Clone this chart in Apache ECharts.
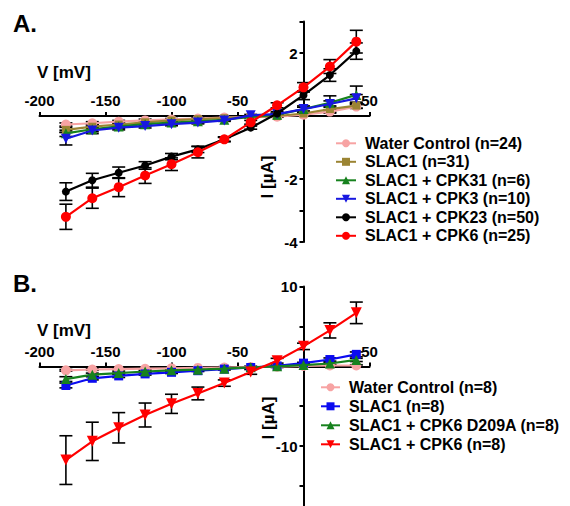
<!DOCTYPE html>
<html>
<head>
<meta charset="utf-8">
<script src="https://cdn.jsdelivr.net/npm/echarts@6/dist/echarts.min.js"></script>
<style>html,body{margin:0;padding:0;background:#fff}#c{width:570px;height:506px}</style>
</head>
<body>
<div id="c"></div>
<script>
// ---------- DATA ----------
const voltages = [-180, -160, -140, -120, -100, -80, -60, -40, -20, 0, 20, 40];

// Panel A
const namesA = ['Water Control (n=24)', 'SLAC1 (n=31)', 'SLAC1 + CPK31 (n=6)', 'SLAC1 + CPK3 (n=10)', 'SLAC1 + CPK23 (n=50)', 'SLAC1 + CPK6 (n=25)'];
const waterA  = [-0.27, -0.23, -0.18, -0.14, -0.11, -0.08, -0.05, -0.03, -0.02, 0.04, 0.14, 0.30];
const slac1A  = [-0.44, -0.34, -0.27, -0.20, -0.14, -0.10, -0.07, -0.03, 0.00, 0.08, 0.22, 0.33];
const cpk31A  = [-0.55, -0.42, -0.33, -0.26, -0.21, -0.17, -0.12, -0.03, 0.04, 0.22, 0.42, 0.67];
const cpk3A   = [-0.72, -0.46, -0.37, -0.32, -0.26, -0.21, -0.14, 0.02, 0.06, 0.22, 0.38, 0.56];
const cpk23A  = [-2.40, -2.04, -1.80, -1.57, -1.29, -1.06, -0.74, -0.37, 0.08, 0.66, 1.30, 2.06];
const cpk6A   = [-3.20, -2.61, -2.26, -1.89, -1.53, -1.15, -0.74, -0.20, 0.34, 0.91, 1.57, 2.36];
const waterAErr = [0.05, 0.05, 0.04, 0.04, 0.03, 0.03, 0.03, 0.02, 0.02, 0.03, 0.05, 0.06];
const slac1AErr = [0.08, 0.06, 0.05, 0.04, 0.04, 0.03, 0.03, 0.02, 0.02, 0.04, 0.10, 0.08];
const cpk31AErr = [0.10, 0.08, 0.06, 0.05, 0.04, 0.04, 0.03, 0.03, 0.04, 0.10, 0.22, 0.28];
const cpk3AErr  = [0.20, 0.10, 0.07, 0.06, 0.05, 0.04, 0.03, 0.03, 0.03, 0.06, 0.10, 0.12];
const cpk23AErr = [0.28, 0.22, 0.18, 0.12, 0.10, 0.10, 0.06, 0.05, 0.06, 0.14, 0.20, 0.26];
const cpk6AErr  = [0.40, 0.32, 0.30, 0.25, 0.20, 0.18, 0.08, 0.06, 0.08, 0.15, 0.22, 0.36];

// Panel B
const namesB = ['Water Control (n=8)', 'SLAC1 (n=8)', 'SLAC1 + CPK6 D209A (n=8)', 'SLAC1 + CPK6 (n=8)'];
const waterB = [-0.5, -0.4, -0.35, -0.3, -0.25, -0.2, -0.15, -0.1, -0.05, 0.05, 0.1, 0.1];
const slac1B = [-2.4, -1.5, -1.2, -0.95, -0.75, -0.55, -0.35, -0.15, 0.05, 0.4, 0.85, 1.5];
const d209aB = [-1.6, -1.05, -0.85, -0.65, -0.5, -0.42, -0.3, -0.13, 0.0, 0.15, 0.35, 0.8];
const cpk6B  = [-11.75, -9.4, -7.7, -6.1, -4.7, -3.4, -2.1, -0.7, 0.7, 2.5, 4.5, 6.7];
const waterBErr = [0.1, 0.1, 0.1, 0.1, 0.1, 0.1, 0.1, 0.1, 0.1, 0.1, 0.1, 0.1];
const slac1BErr = [0.3, 0.2, 0.2, 0.15, 0.15, 0.1, 0.1, 0.1, 0.1, 0.1, 0.2, 0.3];
const d209aBErr = [0.3, 0.2, 0.15, 0.15, 0.1, 0.1, 0.1, 0.1, 0.1, 0.1, 0.15, 0.2];
const cpk6BErr  = [3.05, 2.4, 1.9, 1.5, 1.2, 0.8, 0.4, 0.3, 0.3, 0.4, 0.95, 1.35];

// Tick values
const xTicks = [-200, -150, -100, -50, 0, 50];
const yTicksA = [-4, -3, -2, -1, 0, 1, 2, 3];
const yLabelsA = [-4, -2, 2];
const yTicksB = [-15, -10, -5, 0, 5, 10];
const yLabelsB = [-10, 10];

// ---------- STYLE ----------
const FONT = 'Liberation Sans, Arial, sans-serif';
const stylesA = [
  {color: '#F7A3A3', symbol: 'circle', size: 10, rotate: 0},
  {color: '#9B8433', symbol: 'rect', size: 8, rotate: 0},
  {color: '#17821E', symbol: 'triangle', size: 10, rotate: 0},
  {color: '#1717E0', symbol: 'triangle', size: 10, rotate: 180},
  {color: '#000000', symbol: 'circle', size: 8, rotate: 0},
  {color: '#FF0000', symbol: 'circle', size: 10, rotate: 0}
];
const stylesB = [
  {color: '#F7A3A3', symbol: 'circle', size: 10, rotate: 0},
  {color: '#0B0BF0', symbol: 'rect', size: 9, rotate: 0},
  {color: '#17821E', symbol: 'triangle', size: 10, rotate: 0},
  {color: '#FF0000', symbol: 'triangle', size: 11, rotate: 180}
];
const seriesA = [waterA, slac1A, cpk31A, cpk3A, cpk23A, cpk6A];
const errA = [waterAErr, slac1AErr, cpk31AErr, cpk3AErr, cpk23AErr, cpk6AErr];
const seriesB = [waterB, slac1B, d209aB, cpk6B];
const errB = [waterBErr, slac1BErr, d209aBErr, cpk6BErr];

function errRender(params, api) {
  const x = api.value(0), y = api.value(1), e = api.value(2);
  const t = api.coord([x, y + e]);
  const b = api.coord([x, y - e]);
  const hw = 6.5;
  const st = {stroke: '#000', lineWidth: 1.6};
  return {type: 'group', children: [
    {type: 'line', shape: {x1: t[0], y1: t[1], x2: b[0], y2: b[1]}, style: st},
    {type: 'line', shape: {x1: t[0] - hw, y1: t[1], x2: t[0] + hw, y2: t[1]}, style: st},
    {type: 'line', shape: {x1: b[0] - hw, y1: b[1], x2: b[0] + hw, y2: b[1]}, style: st}
  ]};
}

const series = [];
function addPanel(names, vals, errs, styles, idx) {
  names.forEach((n, i) => {
    series.push({
      type: 'custom', name: n + ' err', xAxisIndex: idx, yAxisIndex: idx,
      renderItem: errRender, encode: {x: 0, y: 1}, z: 3, silent: true,
      data: voltages.map((v, k) => [v, vals[i][k], errs[i][k]])
    });
  });
  names.forEach((n, i) => {
    const s = styles[i];
    series.push({
      type: 'line', name: n, xAxisIndex: idx, yAxisIndex: idx,
      data: voltages.map((v, k) => [v, vals[i][k]]),
      symbol: s.symbol, symbolSize: s.size, symbolRotate: s.rotate,
      showAllSymbol: true, z: 4 + i,
      lineStyle: {color: s.color, width: 2.2},
      itemStyle: {color: s.color, opacity: 1},
      emphasis: {disabled: true}
    });
  });
}
addPanel(namesA, seriesA, errA, stylesA, 0);
addPanel(namesB, seriesB, errB, stylesB, 1);

// grid geometry (pixel layout, not data)
const GRID_LEFT = 39.5, GRID_RIGHT = 200.5;
const ZERO_X_OFFSET = -264;      // y-axis drawn at V = 0
function xAxis(idx, offset) {
  return {
    type: 'value', gridIndex: idx, min: xTicks[0], max: xTicks[xTicks.length - 1], interval: 50,
    position: 'top', offset: offset,
    axisLine: {onZero: false, lineStyle: {color: '#000', width: 2}},
    axisTick: {length: 4, lineStyle: {color: '#000', width: 2}},
    axisLabel: {formatter: v => v === 0 ? '' : String(v), color: '#000', fontWeight: 'bold', fontSize: 15, fontFamily: FONT, margin: 8},
    splitLine: {show: false}
  };
}
function yAxis(idx, min, max, ticks, labels) {
  return {
    type: 'value', gridIndex: idx, min: min, max: max,
    position: 'left', offset: ZERO_X_OFFSET,
    axisLine: {onZero: false, lineStyle: {color: '#000', width: 2}},
    axisTick: {length: 4, customValues: ticks, lineStyle: {color: '#000', width: 2}},
    axisLabel: {customValues: labels, formatter: v => String(v), color: '#000', fontWeight: 'bold', fontSize: 15, fontFamily: FONT, margin: 6},
    splitLine: {show: false}
  };
}

const legendText = {color: '#000', fontWeight: 'bold', fontSize: 16, fontFamily: FONT, lineHeight: 16, padding: [0, 0, 0, 4]};

const option = {
  animation: false,
  backgroundColor: '#fff',
  grid: [
    {left: GRID_LEFT, right: GRID_RIGHT, top: 21.5, height: 220.5},
    {left: GRID_LEFT, right: GRID_RIGHT, top: 286.5, height: 220}
  ],
  xAxis: [xAxis(0, -94.5), xAxis(1, -80)],
  yAxis: [
    yAxis(0, -4, 3, yTicksA, yLabelsA),
    yAxis(1, -17.5, 10, yTicksB, yLabelsB)
  ],
  legend: [
    {data: namesA, orient: 'vertical', left: 330, top: 130.3, itemWidth: 20, itemHeight: 10, itemGap: 2.5,
     textStyle: legendText, selectedMode: false},
    {data: namesB, orient: 'vertical', left: 315, top: 374.3, itemWidth: 19, itemHeight: 10, itemGap: 3,
     textStyle: legendText, selectedMode: false}
  ],
  graphic: [
    {type: 'text', left: 13, top: 11, style: {text: 'A.', font: 'bold 24px ' + FONT, fill: '#000'}},
    {type: 'text', left: 13, top: 271, style: {text: 'B.', font: 'bold 24px ' + FONT, fill: '#000'}},
    {type: 'text', x: 37, y: 72, style: {text: 'V [mV]', font: 'bold 17px ' + FONT, fill: '#000', textVerticalAlign: 'middle'}},
    {type: 'text', x: 37, y: 330, style: {text: 'V [mV]', font: 'bold 17px ' + FONT, fill: '#000', textVerticalAlign: 'middle'}},
    {type: 'text', x: 267, y: 177, rotation: Math.PI / 2, style: {text: 'I [µA]', font: 'bold 17px ' + FONT, fill: '#000', textAlign: 'center', textVerticalAlign: 'middle'}},
    {type: 'text', x: 268, y: 418, rotation: Math.PI / 2, style: {text: 'I [µA]', font: 'bold 17px ' + FONT, fill: '#000', textAlign: 'center', textVerticalAlign: 'middle'}}
  ],
  series: series
};

const chart = echarts.init(document.getElementById('c'), null, {renderer: 'svg'});
chart.setOption(option);
</script>
</body>
</html>
